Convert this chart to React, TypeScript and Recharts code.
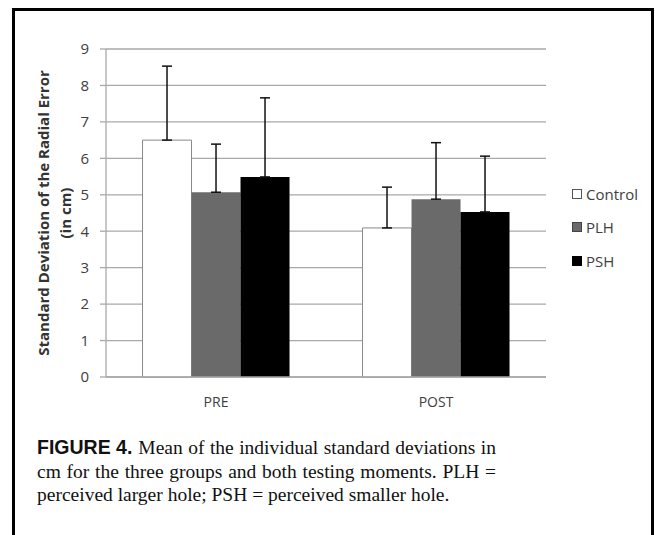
import { BarChart, Bar, XAxis, YAxis, CartesianGrid, ErrorBar, Legend } from 'recharts'

const categories = ['PRE', 'POST']
const controlMean = [6.5, 4.09]
const controlSd = [2.03, 1.12]
const plhMean = [5.07, 4.88]
const plhSd = [1.32, 1.55]
const pshMean = [5.49, 4.53]
const pshSd = [2.17, 1.53]
const yTicks = [0, 1, 2, 3, 4, 5, 6, 7, 8, 9]

const data = categories.map((cat, i) => ({
  cat,
  Control: controlMean[i],
  controlErr: [0, controlSd[i]],
  PLH: plhMean[i],
  plhErr: [0, plhSd[i]],
  PSH: pshMean[i],
  pshErr: [0, pshSd[i]],
}))

const font = '"Open Sans", sans-serif'

function LegendBox({ payload }: any) {
  return (
    <div style={{ fontFamily: font, fontSize: 15, color: '#404040' }}>
      {(payload || []).map((p: any) => (
        <div key={p.value} style={{ display: 'flex', alignItems: 'center', height: 33.5 }}>
          <span
            style={{
              display: 'inline-block',
              width: 8,
              height: 8,
              marginRight: 4,
              background: p.color,
              border: '1px solid ' + (p.value === 'Control' ? '#555' : p.color === '#000000' ? '#000' : '#444'),
            }}
          />
          {p.value}
        </div>
      ))}
    </div>
  )
}

const lineStyle = { textAlign: 'justify' as const, textAlignLast: 'justify' as const, height: 23.5 }

export default function App() {
  return (
    <div style={{ position: 'absolute', left: 0, top: 0, width: 655, height: 535, overflow: 'hidden', background: '#fff' }}>
      <div
        style={{
          position: 'absolute',
          left: 12,
          top: 8,
          width: 636,
          height: 600,
          border: '3.5px solid #000',
        }}
      />
      <div style={{ position: 'absolute', left: 0, top: 0 }}>
        <BarChart
          width={655}
          height={420}
          data={data}
          margin={{ top: 49, right: 109, bottom: 13, left: 6 }}
          barGap={0}
          barCategoryGap="16.6%"
        >
          <CartesianGrid vertical={false} stroke="#a9a9a9" strokeWidth={1.3} />
          <XAxis
            dataKey="cat"
            height={30}
            axisLine={{ stroke: '#a9a9a9', strokeWidth: 1.3 }}
            tickLine={false}
            tickMargin={14}
            tick={{ fill: '#404040', fontSize: 14, fontFamily: font }}
          />
          <YAxis
            width={100}
            domain={[0, 9]}
            ticks={yTicks}
            axisLine={{ stroke: '#a9a9a9', strokeWidth: 1.3 }}
            tickLine={{ stroke: '#a9a9a9', strokeWidth: 1.3 }}
            tickSize={6}
            tickMargin={11}
            tick={{ fill: '#404040', fontSize: 15, fontFamily: font }}
          />
          <Legend
            layout="vertical"
            content={<LegendBox />}
            wrapperStyle={{ left: 572, top: 177, width: 80, height: 0 }}
          />
          <Bar dataKey="Control" fill="#ffffff" stroke="#8a8a8a" strokeWidth={1} isAnimationActive={false}>
            <ErrorBar dataKey="controlErr" direction="y" width={5} stroke="#111" strokeWidth={1.5} />
          </Bar>
          <Bar dataKey="PLH" fill="#6a6a6a" isAnimationActive={false}>
            <ErrorBar dataKey="plhErr" direction="y" width={5} stroke="#111" strokeWidth={1.5} />
          </Bar>
          <Bar dataKey="PSH" fill="#000000" isAnimationActive={false}>
            <ErrorBar dataKey="pshErr" direction="y" width={5} stroke="#111" strokeWidth={1.5} />
          </Bar>
        </BarChart>
      </div>
      <div style={{ position: 'absolute', left: 54, top: 213, width: 0, height: 0 }}>
        <div
          style={{
            position: 'absolute',
            left: 0,
            top: 0,
            transform: 'translate(-50%, -50%) rotate(-90deg)',
            whiteSpace: 'nowrap',
            textAlign: 'center',
            fontFamily: font,
            fontWeight: 700,
            fontSize: 15,
            lineHeight: '22px',
            color: '#333',
          }}
        >
          Standard Deviation of the Radial Error
          <br />
          (in cm)
        </div>
      </div>
      <div
        style={{
          position: 'absolute',
          left: 37,
          top: 436,
          width: 459,
          fontFamily: '"Liberation Serif", serif',
          fontSize: 19.5,
          lineHeight: '23.5px',
          color: '#111',
          whiteSpace: 'nowrap',
        }}
      >
        <div style={{ ...lineStyle, display: 'flex', justifyContent: 'space-between' }}>
          <b style={{ fontFamily: '"Liberation Sans", sans-serif', fontSize: 19.5 }}>FIGURE 4.</b>
          <span style={{ flex: 1, marginLeft: 6, textAlign: 'justify', textAlignLast: 'justify' }}>
            Mean of the individual standard deviations in
          </span>
        </div>
        <div style={lineStyle}>cm for the three groups and both testing moments. PLH =</div>
        <div style={{ height: 23.5 }}>perceived larger hole; PSH = perceived smaller hole.</div>
      </div>
    </div>
  )
}
